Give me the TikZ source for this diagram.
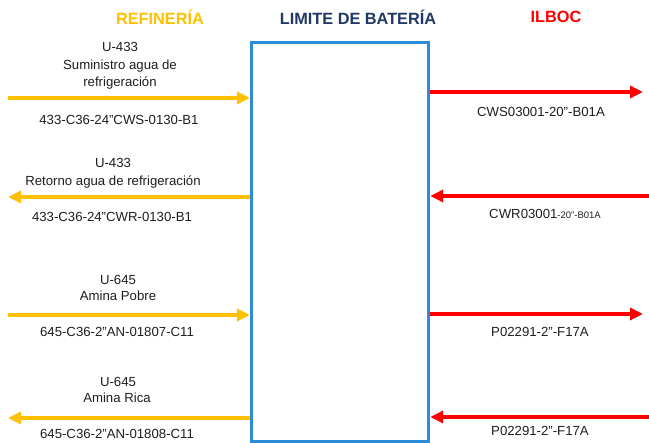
\documentclass[tikz,border=0pt]{standalone}
\usepackage{fontspec}
\setmainfont{Liberation Sans}
\usetikzlibrary{arrows.meta}
\definecolor{ref}{RGB}{255,192,0}
\definecolor{ilb}{RGB}{255,0,0}
\definecolor{navy}{RGB}{31,56,100}
\definecolor{boxblue}{RGB}{45,140,215}
\definecolor{txt}{RGB}{30,30,30}
\tikzset{
  title/.style={font=\fontsize{16.3}{19}\selectfont\bfseries},
  lbl/.style={font=\fontsize{13.2}{15}\selectfont, text=txt, inner sep=0pt, text height=9.5pt, text depth=3pt},
  yarrow/.style={draw=ref, line width=3.8pt, -{Triangle[length=13pt,width=12pt]}},
  rarrow/.style={draw=ilb, line width=3.8pt, -{Triangle[length=13pt,width=12pt]}},
}
\begin{document}
\begin{tikzpicture}[x=1pt,y=-1pt]
\useasboundingbox (0,0) rectangle (649,443);
% titles
\node[title, text=ref] (t1) at (160,17) {REFINERÍA};
\node[title, text=navy] (t2) at (358,17) {LIMITE DE BATERÍA};
\node[title, text=ilb] (t3) at (556,17) {ILBOC};
% battery limit box
\node[draw=boxblue, line width=3.2pt, minimum width=177pt, minimum height=399pt, inner sep=0pt, anchor=north west] (lb) at (250,41) {};
% free ends
\coordinate (a1) at (8,98);
\coordinate (a2) at (8,197);
\coordinate (a3) at (8,315);
\coordinate (a4) at (8,418);
\coordinate (b1) at (643,92);
\coordinate (b2) at (650,196);
\coordinate (b3) at (643,314);
\coordinate (b4) at (650,417);
% arrows
\draw[yarrow] (a1) -- (a1 -| lb.west);
\draw[yarrow] (a2 -| lb.west) -- (a2);
\draw[yarrow] (a3) -- (a3 -| lb.west);
\draw[yarrow] (a4 -| lb.west) -- (a4);
\draw[rarrow] (b1 -| lb.east) -- (b1);
\draw[rarrow] (b2) -- (b2 -| lb.east);
\draw[rarrow] (b3 -| lb.east) -- (b3);
\draw[rarrow] (b4) -- (b4 -| lb.east);
% left labels
\node[lbl] (l1a) at (120,48) {U-433};
\node[lbl] (l1b) at (120,66) {Suministro agua de};
\node[lbl] (l1c) at (120,83) {refrigeración};
\node[lbl] (l1d) at (119,121) {433-C36-24”CWS-0130-B1};
\node[lbl] (l2a) at (113,164) {U-433};
\node[lbl] (l2b) at (113,182) {Retorno agua de refrigeración};
\node[lbl] (l2d) at (112,218) {433-C36-24”CWR-0130-B1};
\node[lbl] (l3a) at (118,281) {U-645};
\node[lbl] (l3b) at (118,297) {Amina Pobre};
\node[lbl] (l3d) at (117,333) {645-C36-2”AN-01807-C11};
\node[lbl] (l4a) at (118,383) {U-645};
\node[lbl] (l4b) at (117,399) {Amina Rica};
\node[lbl] (l4d) at (117,435) {645-C36-2”AN-01808-C11};
% right labels
\node[lbl] (r1) at (541,113) {CWS03001-20”-B01A};
\node[lbl] (r2) at (545,215) {CWR03001{\fontsize{9.5}{10}\selectfont -20”-B01A}};
\node[lbl] (r3) at (540,333) {P02291-2”-F17A};
\node[lbl] (r4) at (540,432) {P02291-2”-F17A};
\end{tikzpicture}
\end{document}
